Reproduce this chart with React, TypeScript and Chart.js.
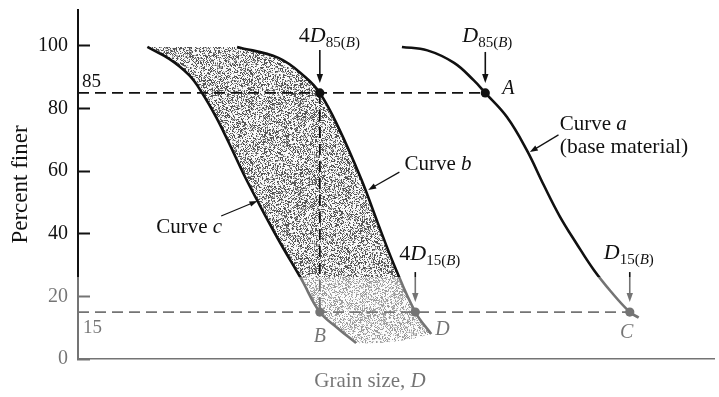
import React, { useEffect, useRef } from 'react';
import { Chart, registerables } from 'chart.js';

Chart.register(...registerables);

const SERIF = '"Liberation Serif", "Times New Roman", serif';
const INK = '#111111';

// Grain-size distribution curves: relative grain-size position (x) vs. percent finer (y)
const curveCX = [10.9, 14.4, 17.5, 19.5, 21.7, 23.7, 26.0, 28.1, 31.5, 35.1, 38.0, 40.9, 43.7];
const curveCY = [99.7, 95.8, 90.6, 85, 77.3, 69.1, 59.2, 50.9, 38.1, 25.5, 15, 9.7, 5.1];
const curveBX = [25.0, 31.5, 35.7, 38.0, 40.9, 44.5, 47.1, 49.8, 53.0, 55.5];
const curveBY = [99.7, 96.2, 90.1, 85, 74.1, 57.5, 43.5, 29.4, 15, 8];
const curveAX = [50.9, 54.9, 59.1, 62.2, 64.0, 67.4, 70.5, 73.2, 75.7, 78.3, 81.0, 83.8, 86.7, 88.1];
const curveAY = [99.7, 98.6, 94.6, 89, 85, 77.3, 66.8, 55.5, 45.6, 37, 28.6, 21.4, 15, 13.2];

// Filter criteria levels and the marked sizes (4D85, D85, B, 4D15, D15)
const levelHigh = 85;
const levelLow = 15;
const markX = [38.0, 64.0, 38.0, 53.0, 86.7];
const markY = [85, 85, 15, 15, 15];

const yTickValues = [0, 20, 40, 60, 80, 100];
const Y_MAX = 111.5;

const toPts = (xs: number[], ys: number[]) => xs.map((x, i) => ({ x, y: ys[i] }));

type Part = { t: string; it?: boolean; sub?: boolean };

function drawRich(
  ctx: CanvasRenderingContext2D,
  parts: Part[],
  x: number,
  y: number,
  size: number,
  subSize: number,
  align: 'left' | 'center' = 'left'
) {
  const fontFor = (p: Part) => `${p.it ? 'italic ' : ''}${p.sub ? subSize : size}px ${SERIF}`;
  let total = 0;
  for (const p of parts) {
    ctx.font = fontFor(p);
    total += ctx.measureText(p.t).width;
  }
  let cx = align === 'center' ? x - total / 2 : x;
  ctx.textAlign = 'left';
  ctx.textBaseline = 'alphabetic';
  for (const p of parts) {
    ctx.font = fontFor(p);
    ctx.fillText(p.t, cx, p.sub ? y + 5 : y);
    cx += ctx.measureText(p.t).width;
  }
}

function drawArrow(
  ctx: CanvasRenderingContext2D,
  x1: number,
  y1: number,
  x2: number,
  y2: number,
  lw = 1.4,
  head = 8,
  halfW = 3
) {
  const ang = Math.atan2(y2 - y1, x2 - x1);
  ctx.save();
  ctx.strokeStyle = INK;
  ctx.fillStyle = INK;
  ctx.lineWidth = lw;
  ctx.beginPath();
  ctx.moveTo(x1, y1);
  ctx.lineTo(x2 - Math.cos(ang) * head * 0.6, y2 - Math.sin(ang) * head * 0.6);
  ctx.stroke();
  ctx.beginPath();
  ctx.moveTo(x2, y2);
  ctx.lineTo(
    x2 - Math.cos(ang) * head + Math.sin(ang) * halfW,
    y2 - Math.sin(ang) * head - Math.cos(ang) * halfW
  );
  ctx.lineTo(
    x2 - Math.cos(ang) * head - Math.sin(ang) * halfW,
    y2 - Math.sin(ang) * head + Math.cos(ang) * halfW
  );
  ctx.closePath();
  ctx.fill();
  ctx.restore();
}

// Stippled grey texture for the filter band
function makeStipple(): CanvasPattern | string {
  const c = document.createElement('canvas');
  c.width = 97;
  c.height = 89;
  const g = c.getContext('2d');
  if (!g) return '#b4b4b4';
  const img = g.createImageData(c.width, c.height);
  for (let y = 0; y < c.height; y++) {
    for (let x = 0; x < c.width; x++) {
      let h = Math.imul(x, 374761393) + Math.imul(y, 668265263);
      h = Math.imul(h ^ (h >>> 13), 1274126177);
      h ^= h >>> 16;
      const r = (h >>> 0) / 4294967296;
      const v = r < 0.3 ? 85 : r < 0.46 ? 165 : 248;
      const i = (y * c.width + x) * 4;
      img.data[i] = v;
      img.data[i + 1] = v;
      img.data[i + 2] = v;
      img.data[i + 3] = 255;
    }
  }
  g.putImageData(img, 0, 0);
  const ctx = document.createElement('canvas').getContext('2d');
  return (ctx && ctx.createPattern(c, 'repeat')) || '#b4b4b4';
}

export default function App() {
  const ref = useRef<HTMLCanvasElement | null>(null);

  useEffect(() => {
    const canvas = ref.current;
    if (!canvas) return;
    const stipple = makeStipple();

    const decor = {
      id: 'decor',
      beforeDatasetsDraw(chart: any) {
        const { ctx, chartArea } = chart;
        const lineC = chart.getDatasetMeta(0).dataset;
        const lineB = chart.getDatasetMeta(1).dataset;
        lineC.updateControlPoints(chartArea, 'x');
        lineB.updateControlPoints(chartArea, 'x');
        const pc = chart.getDatasetMeta(0).data as any[];
        const pb = chart.getDatasetMeta(1).data as any[];
        ctx.save();
        ctx.beginPath();
        ctx.moveTo(pc[0].x, pc[0].y);
        for (let i = 1; i < pc.length; i++) {
          ctx.bezierCurveTo(pc[i - 1].cp2x, pc[i - 1].cp2y, pc[i].cp1x, pc[i].cp1y, pc[i].x, pc[i].y);
        }
        const last = pb.length - 1;
        ctx.quadraticCurveTo(
          (pc[pc.length - 1].x + pb[last].x) / 2,
          Math.max(pc[pc.length - 1].y, pb[last].y) + 2,
          pb[last].x,
          pb[last].y
        );
        for (let i = last; i > 0; i--) {
          ctx.bezierCurveTo(pb[i].cp1x, pb[i].cp1y, pb[i - 1].cp2x, pb[i - 1].cp2y, pb[i - 1].x, pb[i - 1].y);
        }
        ctx.closePath();
        ctx.fillStyle = stipple as any;
        ctx.fill();
        ctx.restore();
      },
      afterDatasetsDraw(chart: any) {
        const { ctx, scales, chartArea } = chart;
        const X = (v: number) => scales.x.getPixelForValue(v);
        const Y = (v: number) => scales.y.getPixelForValue(v);
        ctx.save();
        ctx.fillStyle = INK;

        // Level labels on the left
        ctx.font = `19px ${SERIF}`;
        ctx.textAlign = 'left';
        ctx.textBaseline = 'alphabetic';
        ctx.fillText('85', chartArea.left + 4, Y(levelHigh) - 6);
        ctx.fillText('15', chartArea.left + 5, Y(levelLow) + 21);

        // 4D85(B)
        let px = X(markX[0]);
        let py = Y(markY[0]);
        drawRich(ctx, [{ t: '4' }, { t: 'D', it: true }, { t: '85(', sub: true }, { t: 'B', it: true, sub: true }, { t: ')', sub: true }], px - 21, py - 51, 22, 15);
        drawArrow(ctx, px, py - 43, px, py - 10, 1.6, 9, 3.2);

        // D85(B) and A
        px = X(markX[1]);
        py = Y(markY[1]);
        drawRich(ctx, [{ t: 'D', it: true }, { t: '85(', sub: true }, { t: 'B', it: true, sub: true }, { t: ')', sub: true }], px - 23, py - 51, 22, 15);
        drawArrow(ctx, px, py - 41, px, py - 10, 1.6, 9, 3.2);
        drawRich(ctx, [{ t: 'A', it: true }], px + 17, py + 1, 20, 15);

        // B
        px = X(markX[2]);
        py = Y(markY[2]);
        drawRich(ctx, [{ t: 'B', it: true }], px, py + 30, 20, 15, 'center');

        // 4D15(B) and D
        px = X(markX[3]);
        py = Y(markY[3]);
        drawRich(ctx, [{ t: '4' }, { t: 'D', it: true }, { t: '15(', sub: true }, { t: 'B', it: true, sub: true }, { t: ')', sub: true }], px - 16, py - 52, 22, 15);
        drawArrow(ctx, px, py - 40, px, py - 10, 1.6, 9, 3.2);
        drawRich(ctx, [{ t: 'D', it: true }], px + 20, py + 23, 20, 15);

        // D15(B) and C
        px = X(markX[4]);
        py = Y(markY[4]);
        drawRich(ctx, [{ t: 'D', it: true }, { t: '15(', sub: true }, { t: 'B', it: true, sub: true }, { t: ')', sub: true }], px - 26, py - 53, 22, 15);
        drawArrow(ctx, px, py - 40, px, py - 10, 1.6, 9, 3.2);
        drawRich(ctx, [{ t: 'C', it: true }], px - 3, py + 26, 20, 15, 'center');

        // Curve names with leader arrows
        drawRich(ctx, [{ t: 'Curve ' }, { t: 'a', it: true }], X(75.7), Y(73.2), 21, 15);
        drawRich(ctx, [{ t: '(base material)' }], X(75.7), Y(65.8), 21.5, 15);
        drawArrow(ctx, X(75.5), Y(71.6), X(71.0), Y(66.1), 1.2, 8, 2.8);

        drawRich(ctx, [{ t: 'Curve ' }, { t: 'b', it: true }], X(51.3), Y(60.4), 21, 15);
        drawArrow(ctx, X(50.5), Y(59.7), X(45.6), Y(54.0), 1.2, 8, 2.8);

        drawRich(ctx, [{ t: 'Curve ' }, { t: 'c', it: true }], X(12.3), Y(40.3), 21, 15);
        drawArrow(ctx, X(22.5), Y(45.7), X(28.2), Y(50.5), 1.2, 8, 2.8);

        // Horizontal axis title
        drawRich(ctx, [{ t: 'Grain size, ' }, { t: 'D', it: true }], 370, 387, 21, 15, 'center');
        ctx.restore();
      },
      afterDraw(chart: any) {
        // washed-out lower band of the print
        const { ctx, width, height } = chart;
        ctx.save();
        ctx.fillStyle = 'rgba(255,255,255,0.42)';
        ctx.fillRect(0, 277, width, height - 277);
        ctx.restore();
      },
    };

    const curveStyle = {
      showLine: true,
      borderColor: INK,
      borderWidth: 2.6,
      pointRadius: 0,
      tension: 0.4,
      fill: false,
    };
    const dashStyle = {
      showLine: true,
      borderColor: INK,
      borderWidth: 1.8,
      borderDash: [11, 6],
      pointRadius: 0,
      fill: false,
    };

    const chart = new Chart(canvas, {
      type: 'scatter',
      data: {
        datasets: [
          { label: 'Curve c', data: toPts(curveCX, curveCY), ...curveStyle },
          { label: 'Curve b', data: toPts(curveBX, curveBY), ...curveStyle },
          { label: 'Curve a', data: toPts(curveAX, curveAY), ...curveStyle },
          { label: '85', data: [{ x: 0, y: levelHigh }, { x: markX[1], y: levelHigh }], ...dashStyle },
          { label: '15', data: [{ x: 0, y: levelLow }, { x: markX[4], y: levelLow }], ...dashStyle },
          { label: 'link', data: [{ x: markX[0], y: markY[0] }, { x: markX[2], y: markY[2] }], ...dashStyle },
          {
            label: 'marks',
            data: toPts(markX, markY),
            showLine: false,
            pointRadius: 4.6,
            pointBackgroundColor: INK,
            pointBorderColor: INK,
            pointBorderWidth: 0,
          },
        ],
      },
      options: {
        animation: false,
        responsive: false,
        maintainAspectRatio: false,
        events: [],
        layout: { padding: { top: 10, right: 0, bottom: 0, left: 0 } },
        plugins: { legend: { display: false }, tooltip: { enabled: false } },
        scales: {
          x: {
            type: 'linear',
            min: 0,
            max: 100,
            ticks: { display: false },
            grid: { display: false, drawTicks: false },
            border: { display: true, color: INK, width: 1.6 },
            afterFit: (s: any) => {
              s.height = 38;
              s.paddingLeft = 0;
              s.paddingRight = 0;
            },
          },
          y: {
            type: 'linear',
            min: 0,
            max: Y_MAX,
            afterBuildTicks: (s: any) => {
              s.ticks = yTickValues.map((v) => ({ value: v }));
            },
            ticks: {
              color: INK,
              padding: 22,
              font: { family: SERIF, size: 20 },
            },
            grid: {
              drawOnChartArea: false,
              drawTicks: true,
              tickLength: -12,
              tickWidth: 2,
              tickColor: INK,
            },
            border: { display: true, color: INK, width: 2 },
            title: {
              display: true,
              text: 'Percent finer',
              color: INK,
              font: { family: SERIF, size: 23 },
              padding: { top: 7, bottom: 0 },
            },
            afterFit: (s: any) => {
              s.width = 78;
              s.paddingTop = 0;
              s.paddingBottom = 0;
            },
          },
        },
      },
      plugins: [decor],
    });

    return () => chart.destroy();
  }, []);

  return (
    <div style={{ position: 'fixed', left: 0, top: 0, width: 719, height: 397, background: '#fff' }}>
      <canvas ref={ref} width={719} height={397} style={{ display: 'block' }} />
    </div>
  );
}
